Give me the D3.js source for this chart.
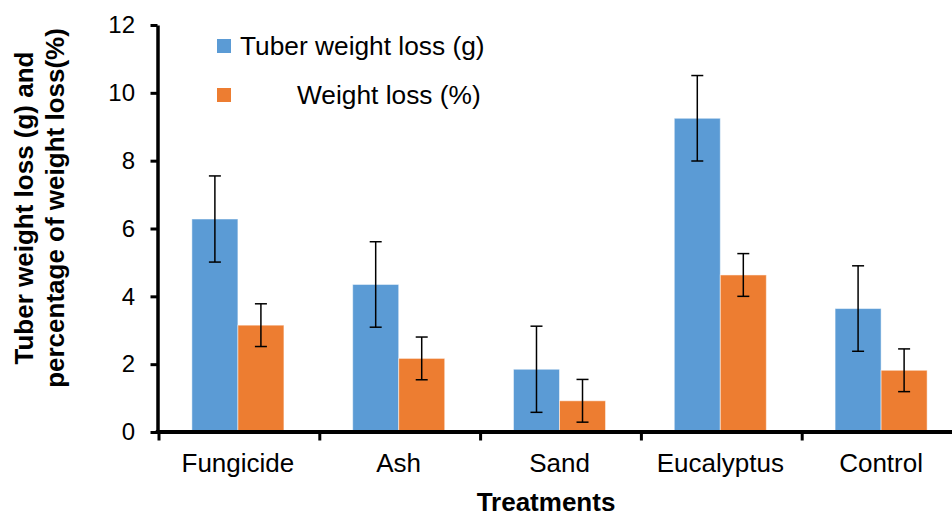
<!DOCTYPE html>
<html>
<head>
<meta charset="utf-8">
<script src="https://cdn.jsdelivr.net/npm/d3@7"></script>
<style>
body { margin: 0; background: #fff; }
svg text { font-family: "Liberation Sans", Arial, sans-serif; fill: #000; }
</style>
</head>
<body>
<div class="graph"></div>
<script>
// values
const treatments = ["Fungicide", "Ash", "Sand", "Eucalyptus", "Control"];
const seriesNames = ["Tuber weight loss (g)", "Weight loss (%)"];
const tuberLoss = [6.28, 4.35, 1.85, 9.25, 3.64];
const tuberErr = [1.27, 1.26, 1.27, 1.26, 1.26];
const pctLoss = [3.15, 2.17, 0.92, 4.63, 1.82];
const pctErr = [0.63, 0.63, 0.63, 0.63, 0.63];
const yTicks = [0, 2, 4, 6, 8, 10, 12];
const colors = ["#5B9BD5", "#ED7D31"];

const w = 952;
const h = 518;
const padLeft = 157.5, padRight = 961.5, padTop = 25, padBottom = 432;

const dataset = [];
treatments.forEach(function(t, i) {
    dataset.push({ cat: t, s: 0, v: tuberLoss[i], e: tuberErr[i] });
    dataset.push({ cat: t, s: 1, v: pctLoss[i], e: pctErr[i] });
});

const x0 = d3.scaleBand().domain(treatments).range([padLeft, padRight]);
const x1 = d3.scaleBand().domain([0, 1]).range([0, x0.bandwidth()]).paddingInner(0).paddingOuter(0.747);
const y = d3.scaleLinear().domain([0, 12]).range([padBottom, padTop]);

const svg = d3.select(".graph").append("svg")
    .attr("width", w)
    .attr("height", h);

// bars
svg.selectAll("rect.bar")
    .data(dataset)
    .enter()
    .append("rect")
    .attr("class", "bar")
    .attr("x", (d) => x0(d.cat) + x1(d.s))
    .attr("y", (d) => y(d.v))
    .attr("width", x1.bandwidth())
    .attr("height", (d) => y(0) - y(d.v))
    .attr("fill", (d) => colors[d.s])
    .attr("stroke", "#fff")
    .attr("stroke-opacity", 0.5)
    .attr("stroke-width", 1);

// error bars
const eb = svg.selectAll("g.err")
    .data(dataset)
    .enter()
    .append("g")
    .attr("class", "err")
    .attr("stroke", "#000")
    .attr("stroke-width", 1.5);
const cx = (d) => x0(d.cat) + x1(d.s) + x1.bandwidth() / 2;
eb.append("line")
    .attr("x1", cx).attr("x2", cx)
    .attr("y1", (d) => y(d.v + d.e))
    .attr("y2", (d) => y(d.v - d.e));
eb.append("line")
    .attr("x1", (d) => cx(d) - 6).attr("x2", (d) => cx(d) + 6)
    .attr("y1", (d) => y(d.v + d.e)).attr("y2", (d) => y(d.v + d.e));
eb.append("line")
    .attr("x1", (d) => cx(d) - 6).attr("x2", (d) => cx(d) + 6)
    .attr("y1", (d) => y(d.v - d.e)).attr("y2", (d) => y(d.v - d.e));

// y axis
const yAxis = d3.axisLeft(y).tickValues(yTicks).tickSize(7).tickPadding(15.5).tickSizeOuter(0);
const gy = svg.append("g")
    .attr("transform", "translate(" + padLeft + ",0)")
    .call(yAxis);
gy.select(".domain").attr("stroke", "#000").attr("stroke-width", 3.5);
gy.selectAll(".tick line").attr("stroke", "#000").attr("stroke-width", 3);
gy.selectAll(".tick text").style("font-size", "24px").style("font-family", "Liberation Sans, Arial, sans-serif");

// x axis: line plus ticks at category boundaries
const gx = svg.append("g");
gx.append("line")
    .attr("x1", padLeft - 1.75).attr("x2", padRight)
    .attr("y1", padBottom).attr("y2", padBottom)
    .attr("stroke", "#000").attr("stroke-width", 4);
gx.selectAll("line.tk")
    .data(treatments)
    .enter()
    .append("line")
    .attr("class", "tk")
    .attr("x1", (d) => x0(d) + 1.5).attr("x2", (d) => x0(d) + 1.5)
    .attr("y1", padBottom).attr("y2", padBottom + 8.5)
    .attr("stroke", "#000").attr("stroke-width", 3);
gx.selectAll("text")
    .data(treatments)
    .enter()
    .append("text")
    .attr("x", (d) => x0(d) + x0.bandwidth() / 2)
    .attr("y", 472)
    .style("text-anchor", "middle")
    .style("font-size", "26px")
    .text((d) => d);

// axis titles
svg.append("text")
    .attr("x", 546)
    .attr("y", 511)
    .style("text-anchor", "middle")
    .style("font-size", "26px")
    .style("font-weight", "bold")
    .text("Treatments");

const yt = svg.append("text")
    .attr("transform", "translate(0,208) rotate(-90)")
    .style("text-anchor", "middle")
    .style("font-size", "26px")
    .style("font-weight", "bold");
yt.append("tspan").attr("x", 0).attr("y", 33).text("Tuber weight loss (g) and");
yt.append("tspan").attr("x", 0).attr("y", 64).text("percentage of weight loss(%)");

// legend
const legendX = [240, 297];
const legendY = [46, 95];
seriesNames.forEach(function(name, i) {
    svg.append("rect")
        .attr("x", 217)
        .attr("y", legendY[i] - 7)
        .attr("width", 14)
        .attr("height", 14)
        .attr("fill", colors[i]);
    svg.append("text")
        .attr("x", legendX[i])
        .attr("y", legendY[i] + 9)
        .style("font-size", "26.3px")
        .text(name);
});
</script>
</body>
</html>
